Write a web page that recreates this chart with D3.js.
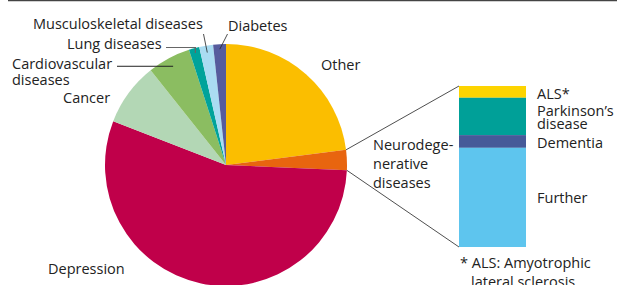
<!DOCTYPE html>
<html>
<head>
<meta charset="utf-8">
<script src="https://cdn.jsdelivr.net/npm/d3@7"></script>
<style>
  body { margin: 0; background: #fff; }
  svg { display: block; font-family: "Open Sans", sans-serif; }
  text { fill: #222; font-size: 14.5px; }
</style>
</head>
<body>
<svg id="chart" width="617" height="285"></svg>
<script>
// pie slices, clockwise from 12 o'clock
const causes = ["Other", "Neurodegenerative diseases", "Depression", "Cancer",
  "Cardiovascular diseases", "Lung diseases", "Musculoskeletal diseases", "Diabetes"];
const shares = [23.0, 2.7, 55.2, 8.4, 5.75, 1.4, 1.85, 1.7];
const pieColors = ["#fbbe00", "#e8650f", "#c0004a", "#b3d7b5", "#8bbd61", "#00a39a", "#aadcf2", "#565c9d"];

// breakdown of the neurodegenerative slice, top to bottom
const neuro = ["ALS*", "Parkinson's disease", "Dementia", "Further"];
const neuroShares = [7.3, 23.2, 7.9, 61.6];
const neuroColors = ["#fdd400", "#00a098", "#465a99", "#5ec5ee"];

const svg = d3.select("svg#chart");
const cx = 226, cy = 165, r = 121;

// top rule
svg.append("line")
  .attr("x1", 8).attr("x2", 617).attr("y1", 0.5).attr("y2", 0.5)
  .attr("stroke", "#444").attr("stroke-width", 1.5);

const data = causes.map((c, i) => ({name: c, value: shares[i], color: pieColors[i]}));
const pie = d3.pie().sort(null).value(d => d.value);
const arcs = pie(data);
const arc = d3.arc().innerRadius(0).outerRadius(r);

const g = svg.append("g").attr("transform", `translate(${cx},${cy})`);
g.selectAll("path")
  .data(arcs)
  .join("path")
  .attr("d", arc)
  .attr("fill", d => d.data.color);

// point on the pie at angle a (radians, clockwise from top) and radius rr
function polar(a, rr) {
  return [cx + rr * Math.sin(a), cy - rr * Math.cos(a)];
}
function mid(d) { return (d.startAngle + d.endAngle) / 2; }

// stacked bar for the neurodegenerative breakdown
const bx = 459, bw = 67;
const y = d3.scaleLinear().domain([0, d3.sum(neuroShares)]).range([86, 247]);
const stack = [];
let acc = 0;
neuroShares.forEach((v, i) => {
  stack.push({name: neuro[i], y0: acc, y1: acc + v, color: neuroColors[i]});
  acc += v;
});
svg.selectAll("rect.seg")
  .data(stack)
  .join("rect")
  .attr("class", "seg")
  .attr("x", bx).attr("width", bw)
  .attr("y", d => y(d.y0))
  .attr("height", d => y(d.y1) - y(d.y0))
  .attr("fill", d => d.color);

// connectors from the neuro slice to the bar
const nd = arcs[1];
const pStart = polar(nd.startAngle, r), pEnd = polar(nd.endAngle, r);
svg.append("line")
  .attr("x1", pStart[0]).attr("y1", pStart[1])
  .attr("x2", bx).attr("y2", y(0))
  .attr("stroke", "#222").attr("stroke-width", 0.8);
svg.append("line")
  .attr("x1", pEnd[0]).attr("y1", pEnd[1])
  .attr("x2", bx).attr("y2", y(d3.sum(neuroShares)))
  .attr("stroke", "#222").attr("stroke-width", 0.8);

// leader lines
const lung = polar(mid(arcs[5]), 116);
svg.append("polyline")
  .attr("points", [[166, 47.5], [lung[0], 47.5], lung].join(" "))
  .attr("fill", "none").attr("stroke", "#666").attr("stroke-width", 1.2);

const cardio = polar(mid(arcs[4]), 112);
svg.append("line")
  .attr("x1", 117).attr("y1", cardio[1]).attr("x2", cardio[0]).attr("y2", cardio[1])
  .attr("stroke", "#222").attr("stroke-width", 1);

const musc = polar(mid(arcs[6]), 114);
svg.append("line")
  .attr("x1", 203.5).attr("y1", 34).attr("x2", musc[0]).attr("y2", musc[1])
  .attr("stroke", "#222").attr("stroke-width", 0.8);

const diab = polar(mid(arcs[7]), 116);
svg.append("line")
  .attr("x1", 227.5).attr("y1", 34).attr("x2", diab[0]).attr("y2", diab[1])
  .attr("stroke", "#222").attr("stroke-width", 0.8);

// labels
function label(lines, x, y0, lh) {
  const t = svg.append("text").attr("x", x).attr("y", y0);
  lines.forEach((s, i) => {
    t.append("tspan").attr("x", x).attr("y", y0 + i * lh).text(s);
  });
  return t;
}
label(["Musculoskeletal diseases"], 33, 29, 0);
label(["Diabetes"], 228, 31, 0);
label(["Lung diseases"], 67, 49, 0);
label(["Cardiovascular", "diseases"], 12, 69, 15.5);
label(["Cancer"], 63, 103, 0);
label(["Other"], 321, 70, 0);
label(["Depression"], 48, 274, 0);
label(["Neurodege-", "nerative", "diseases"], 373, 150, 19);

// bar labels
label(["ALS*"], 537, 99, 0);
label(["Parkinson\u2019s", "disease"], 537, 116, 12.5);
label(["Dementia"], 537, 147.5, 0);
label(["Further"], 537, 203, 0);
label(["* ALS: Amyotrophic"], 460, 268, 0);
label(["lateral sclerosis"], 471, 287, 0);
</script>
</body>
</html>
